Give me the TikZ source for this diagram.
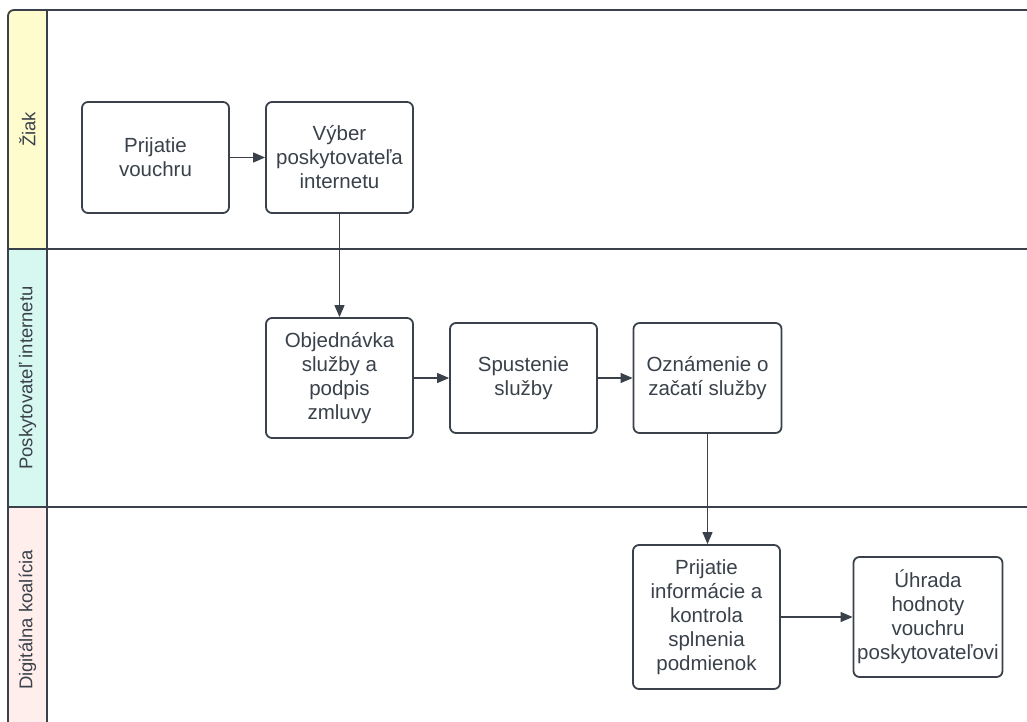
\documentclass[tikz,border=0pt]{standalone}
\usepackage{fontspec}
\setmainfont{Liberation Sans}
\usetikzlibrary{arrows.meta}
\definecolor{ink}{HTML}{3A414A}
\definecolor{laneA}{HTML}{FEFBCC}
\definecolor{laneB}{HTML}{D6F8F1}
\definecolor{laneC}{HTML}{FFEEEC}
\tikzset{
  stepbox/.style={draw=ink, line width=1.8pt, rounded corners=6pt, fill=white,
    inner sep=0pt, align=center, text=ink,
    font=\fontsize{20.5}{24}\selectfont},
  lanelabel/.style={rotate=90, text=ink, font=\fontsize{18.5}{22}\selectfont, inner sep=0pt},
  frame/.style={draw=ink, line width=1.8pt},
  flow/.style={draw=ink, line width=1.1pt, -{Triangle[length=12pt,width=10pt]}}
}
\begin{document}
\begin{tikzpicture}[x=1pt,y=-1pt]
\useasboundingbox (0,0) rectangle (1027,722);
% lane label fills
\fill[laneA] (8,10) rectangle (47,249);
\fill[laneB] (8,249) rectangle (47,507);
\fill[laneC] (8,507) rectangle (47,730);
% frame
\draw[frame, rounded corners=6pt] (8,730) -- (8,10) -- (1030,10);
\draw[frame] (47,10) -- (47,730);
\draw[frame] (8,249) -- (1030,249);
\draw[frame] (8,507) -- (1030,507);
% lane labels
\node[lanelabel] (l1) at (27.5,129.5) {Žiak};
\node[lanelabel] (l2) at (27.5,378) {Poskytovateľ internetu};
\node[lanelabel] (l3) at (27.5,620) {Digitálna koalícia};
% boxes
\node[stepbox, minimum width=147pt, minimum height=111pt] (a) at (155.5,157.5) {Prijatie\\vouchru};
\node[stepbox, minimum width=147pt, minimum height=111pt] (b) at (339.5,157.5) {Výber\\poskytovateľa\\internetu};
\node[stepbox, minimum width=147pt, minimum height=120pt] (c) at (339.5,378) {Objednávka\\služby a\\podpis\\zmluvy};
\node[stepbox, minimum width=147pt, minimum height=110pt] (d) at (523.5,378) {Spustenie\\služby};
\node[stepbox, minimum width=148pt, minimum height=110pt] (e) at (707.5,378) {Oznámenie o\\začatí služby};
\node[stepbox, minimum width=147pt, minimum height=144pt] (f) at (706.5,617) {Prijatie\\informácie a\\kontrola\\splnenia\\podmienok};
\node[stepbox, minimum width=149pt, minimum height=120pt] (g) at (928,617) {Úhrada\\hodnoty\\vouchru\\poskytovateľovi};
% connectors
\draw[flow] (a.east) -- (b.west);
\draw[flow] (b.south) -- (c.north);
\draw[flow] (c.east) -- (d.west);
\draw[flow] (d.east) -- (e.west);
\draw[flow] (e.south) -- (e.south |- f.north);
\draw[flow] (f.east) -- (g.west);
\end{tikzpicture}
\end{document}
